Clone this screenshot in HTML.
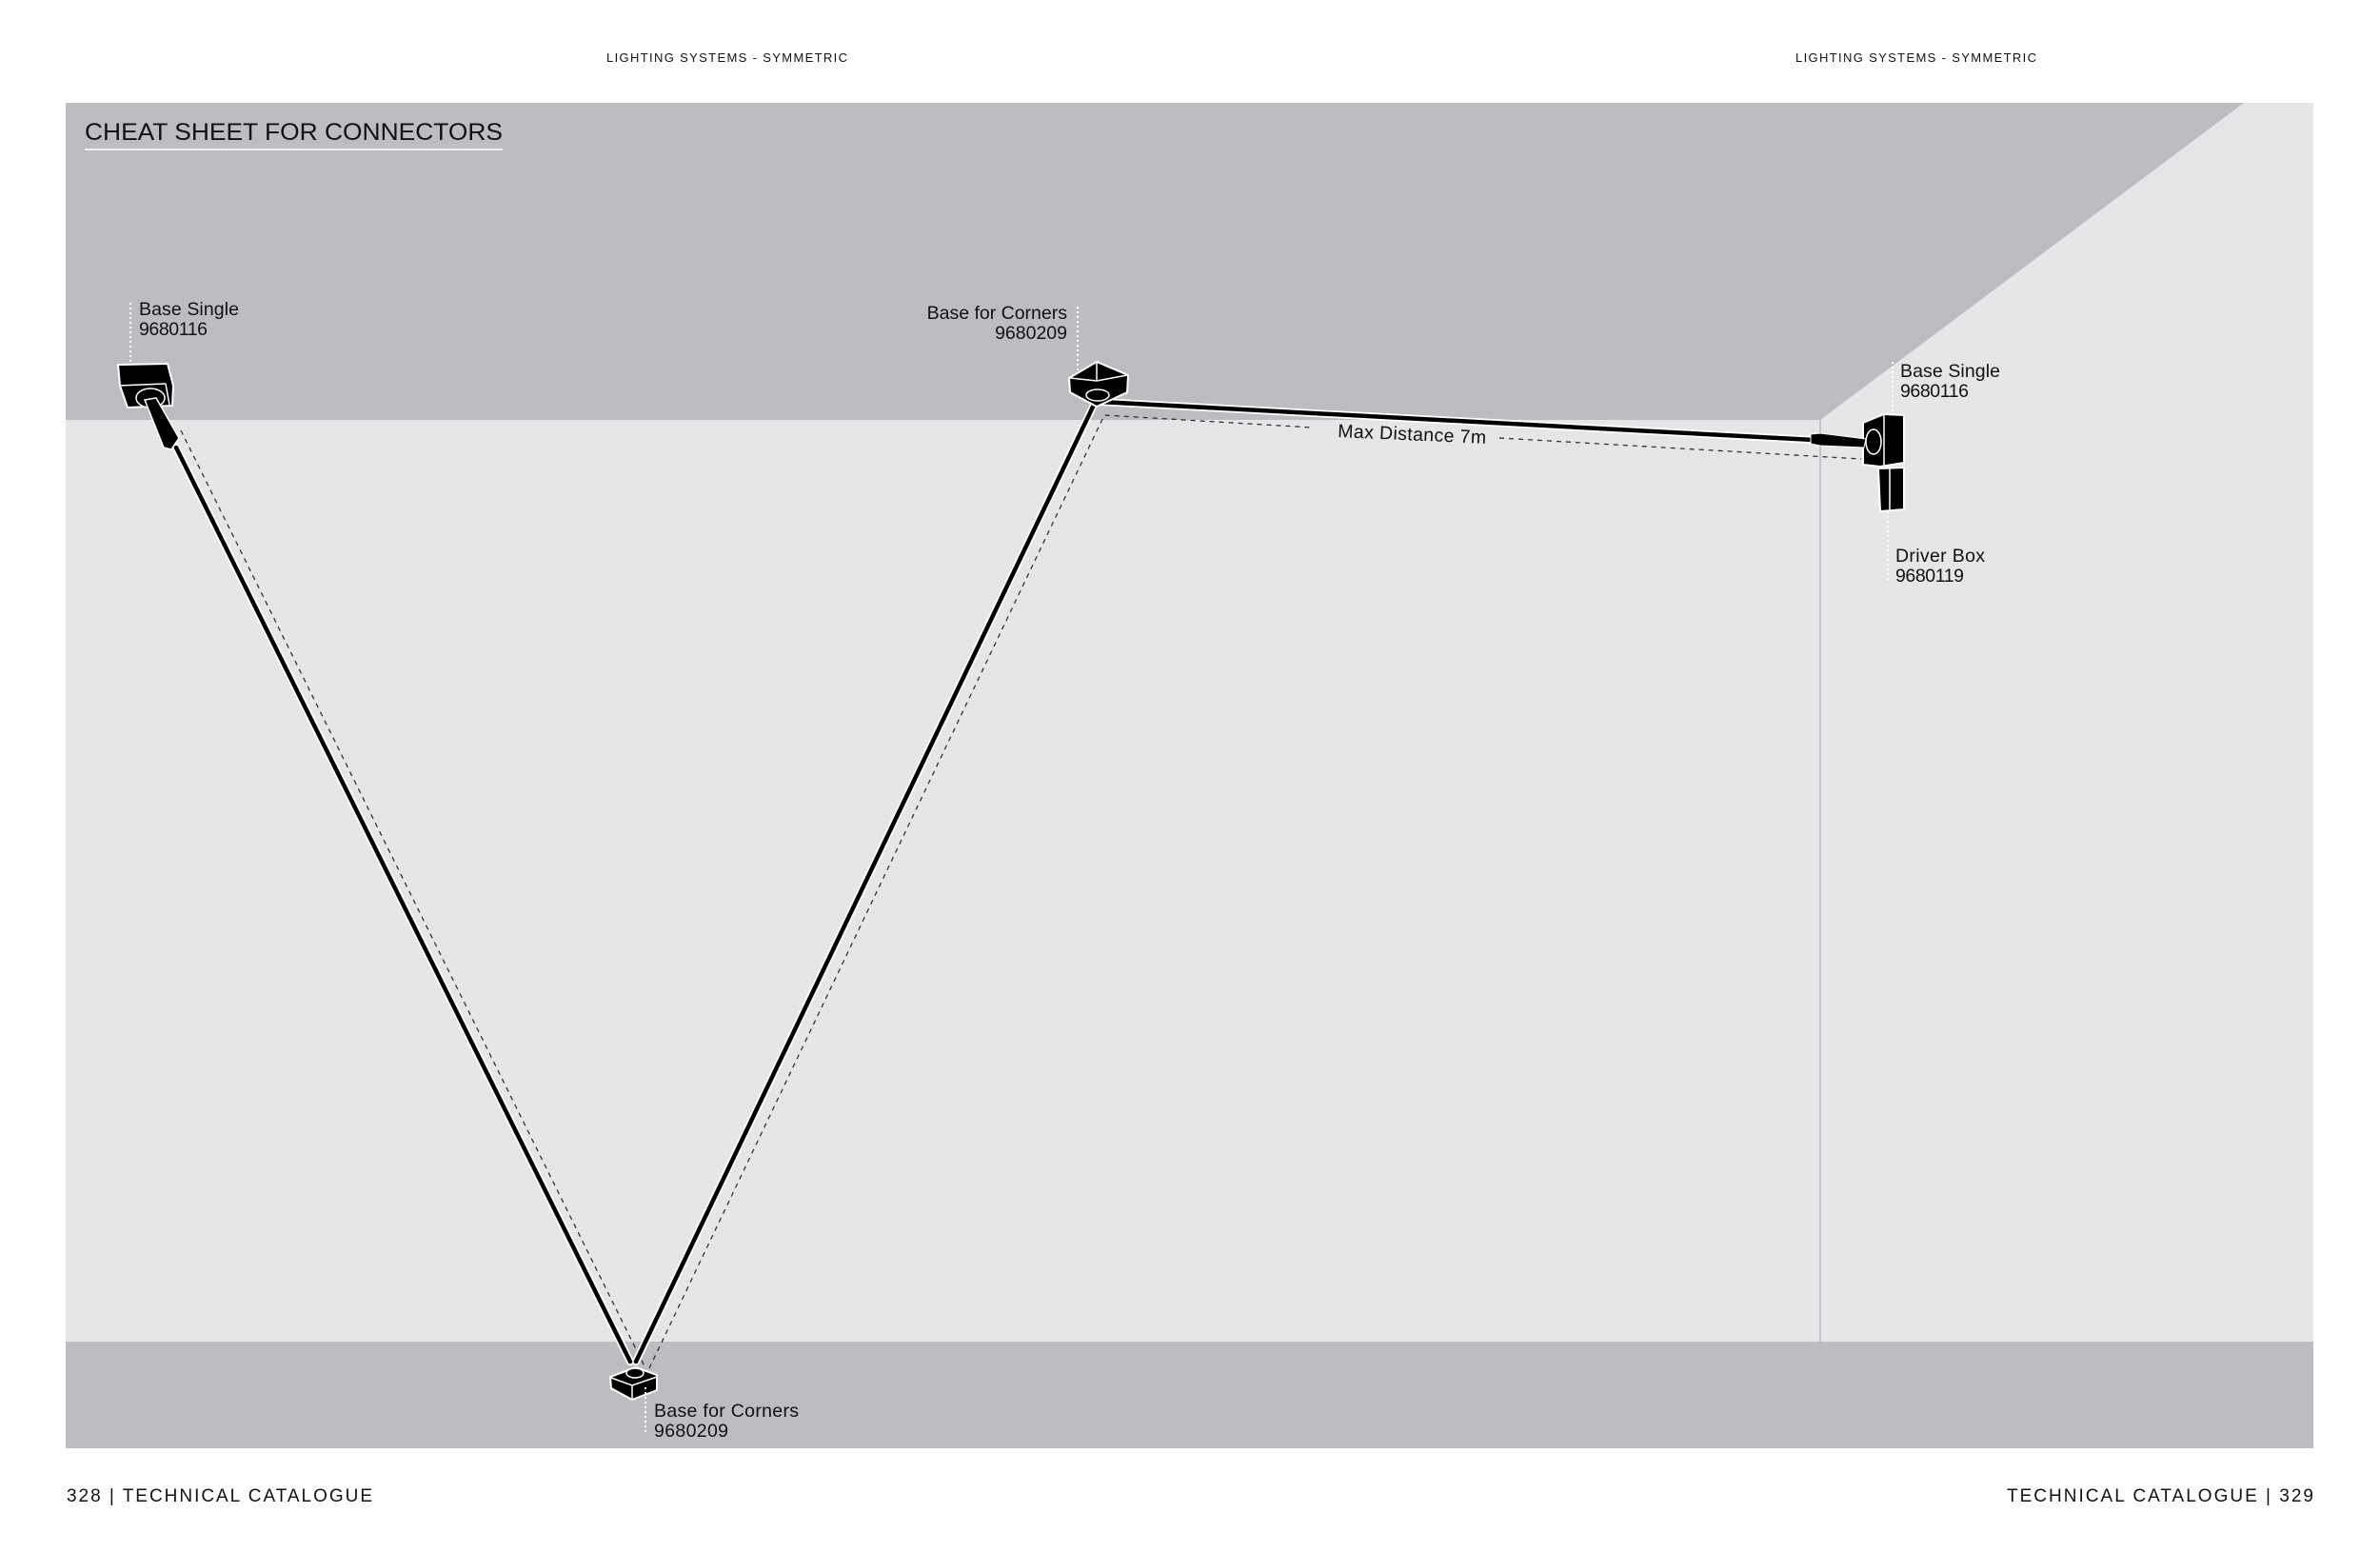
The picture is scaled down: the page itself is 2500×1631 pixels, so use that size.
<!DOCTYPE html>
<html><head><meta charset="utf-8"><style>
html,body{margin:0;padding:0;background:#fff;}
svg{display:block;}
text{font-family:"Liberation Sans",sans-serif;fill:#111;}
</style></head><body>
<svg width="2500" height="1631" viewBox="0 0 2500 1631" xmlns="http://www.w3.org/2000/svg">
<rect width="2500" height="1631" fill="#fff"/>
<text x="637" y="65" font-size="13" textLength="253">LIGHTING SYSTEMS - SYMMETRIC</text>
<text x="1886" y="65" font-size="13" textLength="253">LIGHTING SYSTEMS - SYMMETRIC</text>
<!-- panel -->
<rect x="69" y="108" width="2361" height="1413" fill="#e5e6e8"/>
<polygon points="69,108 2357,108 1912,441 69,441" fill="#bcbdc1"/>
<rect x="69" y="1409" width="2361" height="112" fill="#bcbdc1"/>
<line x1="1912" y1="441" x2="1912" y2="1409" stroke="#c4c5c8" stroke-width="2"/>
<text x="89" y="147" font-size="25" textLength="439" lengthAdjust="spacingAndGlyphs">CHEAT SHEET FOR CONNECTORS</text>
<line x1="89" y1="157" x2="528" y2="157" stroke="#fff" stroke-width="1.5"/>

<!-- dashed guides -->
<g stroke="#333" stroke-width="1.3" stroke-dasharray="5,5" fill="none">
<polyline points="190,452 678,1437"/>
<polyline points="682,1437 1160,436 1378,449"/>
<polyline points="1575,460 1955,482"/>
</g>
<!-- cables -->
<g stroke="#fff" stroke-width="8" fill="none" stroke-linecap="round">
<line x1="185" y1="470" x2="662" y2="1430"/>
<line x1="668" y1="1430" x2="1150" y2="423"/>
<line x1="1155" y1="422" x2="1905" y2="462"/>
</g>
<g stroke="#000" stroke-width="4.5" fill="none" stroke-linecap="round">
<line x1="185" y1="470" x2="662" y2="1430"/>
<line x1="668" y1="1430" x2="1150" y2="423"/>
<line x1="1155" y1="422" x2="1905" y2="462"/>
</g>
<text x="1405" y="459" font-size="19.5" transform="rotate(2.5 1405 459)" textLength="156">Max Distance 7m</text>

<!-- node1 base single -->
<line x1="137" y1="318" x2="137" y2="395" stroke="#fff" stroke-width="2" stroke-dasharray="2,3"/>
<polygon points="124,383 176,382 182,405 181,426 134,428 126,405" fill="#000" stroke="#fff" stroke-width="2"/>
<line x1="125" y1="405" x2="174" y2="403" stroke="#fff" stroke-width="1.5"/>
<line x1="174" y1="403" x2="178" y2="425" stroke="#fff" stroke-width="1.5"/>
<ellipse cx="158" cy="418" rx="15" ry="10" fill="#000" stroke="#fff" stroke-width="1.5"/>
<polygon points="152,420 164,418 188,460 180,472 172,470" fill="#000" stroke="#fff" stroke-width="1.5"/>
<text x="146" y="331" font-size="19.5" textLength="105">Base Single</text>
<text x="146" y="352" font-size="19.5" textLength="72">9680116</text>

<!-- node2 base corners -->
<line x1="1132" y1="322" x2="1132" y2="398" stroke="#fff" stroke-width="2" stroke-dasharray="2,3"/>
<polygon points="1123,397 1152,380 1185,394 1184,412 1152,427 1124,412" fill="#000" stroke="#fff" stroke-width="2"/>
<polyline points="1124,397 1152,400 1184,394" stroke="#fff" stroke-width="1.5" fill="none"/>
<line x1="1152" y1="400" x2="1152" y2="381" stroke="#fff" stroke-width="1.5"/>
<ellipse cx="1153" cy="415" rx="12" ry="6" fill="#000" stroke="#fff" stroke-width="1.5"/>
<text x="1121" y="335" font-size="19.5" text-anchor="end">Base for Corners</text>
<text x="1121" y="356" font-size="19.5" text-anchor="end">9680209</text>

<!-- node3 bottom -->
<polygon points="641,1446 668,1436 690,1444 690,1460 664,1470 642,1458" fill="#000" stroke="#fff" stroke-width="2"/>
<polyline points="642,1447 664,1455 690,1446" stroke="#fff" stroke-width="1.5" fill="none"/>
<line x1="664" y1="1455" x2="664" y2="1470" stroke="#fff" stroke-width="1.5"/>
<ellipse cx="667" cy="1442" rx="9" ry="5" fill="#000" stroke="#fff" stroke-width="1.5"/>
<line x1="678" y1="1457" x2="678" y2="1506" stroke="#fff" stroke-width="2" stroke-dasharray="2,3"/>
<text x="687" y="1488" font-size="19.5" textLength="152">Base for Corners</text>
<text x="687" y="1509" font-size="19.5" textLength="78">9680209</text>

<!-- node4 wall base single + driver -->
<line x1="1988" y1="380" x2="1988" y2="458" stroke="#fff" stroke-width="2" stroke-dasharray="2,3"/>
<polygon points="1957,444 1979,435 2000,436 2000,486 1975,490 1957,488" fill="#000" stroke="#fff" stroke-width="2"/>
<line x1="1979" y1="436" x2="1979" y2="489" stroke="#fff" stroke-width="1.5"/>
<ellipse cx="1968" cy="464" rx="8" ry="13" fill="#000" stroke="#fff" stroke-width="1.5"/>
<polygon points="1902,456 1912,455 1960,461 1958,470 1912,468 1902,466" fill="#000" stroke="#fff" stroke-width="1"/>
<polygon points="1973,492 2000,491 2000,535 1975,537" fill="#000" stroke="#fff" stroke-width="2"/>
<line x1="1985" y1="492" x2="1985" y2="536" stroke="#fff" stroke-width="1.5"/>
<line x1="1983" y1="537" x2="1983" y2="610" stroke="#fff" stroke-width="2" stroke-dasharray="2,3"/>
<text x="1996" y="396" font-size="19.5" textLength="105">Base Single</text>
<text x="1996" y="417" font-size="19.5" textLength="72">9680116</text>
<text x="1991" y="590" font-size="19.5" textLength="94">Driver Box</text>
<text x="1991" y="611" font-size="19.5" textLength="72">9680119</text>

<text x="70" y="1577" font-size="19" textLength="321">328 | TECHNICAL CATALOGUE</text>
<text x="2108" y="1577" font-size="19" textLength="322">TECHNICAL CATALOGUE | 329</text>
</svg>
</body></html>
